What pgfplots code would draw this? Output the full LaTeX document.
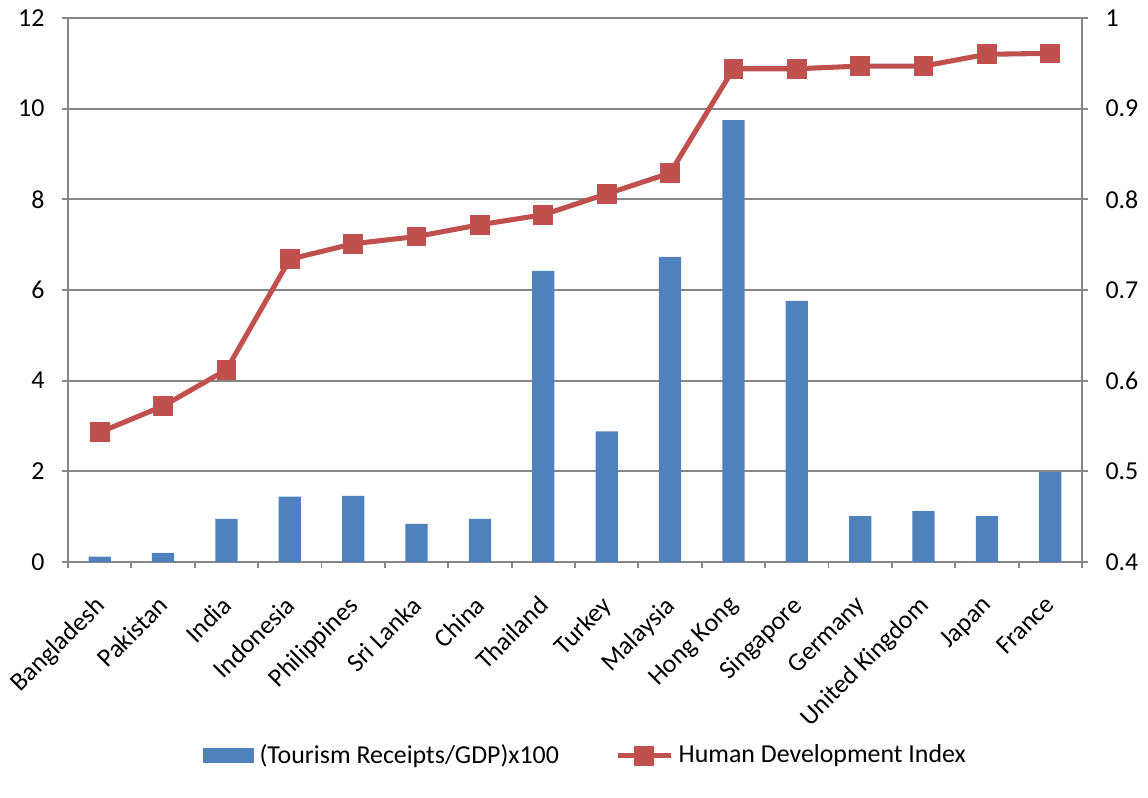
\documentclass[border=0pt]{standalone}
\usepackage{pgfplots}
\pgfplotsset{compat=1.18}
\usepackage{pgfplotstable}
\usepackage{fontspec}
\setmainfont{Carlito}

\definecolor{barblue}{HTML}{4F81BD}
\definecolor{hdired}{HTML}{C0504D}
\definecolor{axisgray}{HTML}{868686}

% idx: category position, receipts: (tourism receipts / GDP) x 100, hdi: Human Development Index
\pgfplotstableread{
idx receipts hdi
0  0.12 0.543
1  0.20 0.572
2  0.95 0.612
3  1.44 0.734
4  1.46 0.751
5  0.84 0.759
6  0.95 0.772
7  6.42 0.783
8  2.88 0.806
9  6.73 0.829
10 9.75 0.944
11 5.76 0.944
12 1.01 0.947
13 1.12 0.947
14 1.01 0.960
15 1.98 0.961
}\datatable

\newcommand{\chartfont}{\fontsize{9.7}{11.6}\selectfont}

\pgfplotsset{
  common/.style={
    scale only axis, width=380.25pt, height=204pt,
    xmin=-0.5, xmax=15.5,
    at={(0pt,0pt)}, anchor=south west,
    font=\chartfont,
    tick label style={font=\chartfont, black},
    /pgf/number format/assume math mode=true,
    axis line style={axisgray, line width=0.7pt, -},
    tick style={axisgray, line width=0.7pt},
    tick align=outside, major tick length=2.4pt,
    minor tick num=0,
  },
  barlegend/.style={legend image code/.code={\fill[barblue] (0pt,-2.6pt) rectangle (18.75pt,2.6pt);}},
  hdilegend/.style={legend image code/.code={\draw[mark repeat=2, mark phase=2, ##1] plot coordinates {(0pt,0pt) (10pt,0pt) (20pt,0pt)};}},
}

\begin{document}
\chartfont
\begin{tikzpicture}
\useasboundingbox (-25.5pt,-88.125pt) rectangle (405pt,210.75pt);

% left axis: tourism receipts as share of GDP (bars)
\begin{axis}[
  common,
  ymin=0, ymax=12, ytick={0,2,4,6,8,10,12},
  axis x line*=bottom, axis y line*=left,
  ymajorgrids, grid style={axisgray, line width=0.7pt},
  xtick={-0.5,0.5,1.5,2.5,3.5,4.5,5.5,6.5,7.5,8.5,9.5,10.5,11.5,12.5,13.5,14.5,15.5},
  xticklabels={},
  extra x ticks={0,1,2,3,4,5,6,7,8,9,10,11,12,13,14,15},
  extra x tick labels={Bangladesh,Pakistan,India,Indonesia,Philippines,Sri Lanka,China,Thailand,Turkey,Malaysia,Hong Kong,Singapore,Germany,United Kingdom,Japan,France},
  extra x tick style={major tick length=0pt, grid=none,
    tick label style={rotate=45, anchor=north east, inner sep=1pt, xshift=-9.1pt, yshift=-5.8pt}},
  yticklabel style={xshift=-3pt},
]
\addplot[ybar, bar width=0.35, fill=barblue, draw=none] table[x=idx, y=receipts]{\datatable};
\end{axis}

% right axis: Human Development Index (line)
\begin{axis}[
  common,
  ymin=0.4, ymax=1,
  ytick={0.4,0.5,0.6,0.7,0.8,0.9,1},
  yticklabels={0.4,0.5,0.6,0.7,0.8,0.9,1},
  axis y line*=right, axis x line=none,
  yticklabel style={xshift=3pt},
  legend columns=2,
  legend style={draw=none, fill=none, at={(0.512,-0.356)}, anchor=center,
    font=\chartfont, /tikz/every even column/.append style={column sep=19pt},
    cells={anchor=west}, inner sep=0pt},
]
\addlegendimage{barlegend}
\addlegendentry{(Tourism Receipts/GDP)x100}
\addplot[hdired, line width=1.9pt, mark=square*, mark size=2.75pt, mark options={solid, fill=hdired}, hdilegend]
  table[x=idx, y=hdi]{\datatable};
\addlegendentry{Human Development Index}
\end{axis}
\end{tikzpicture}
\end{document}
